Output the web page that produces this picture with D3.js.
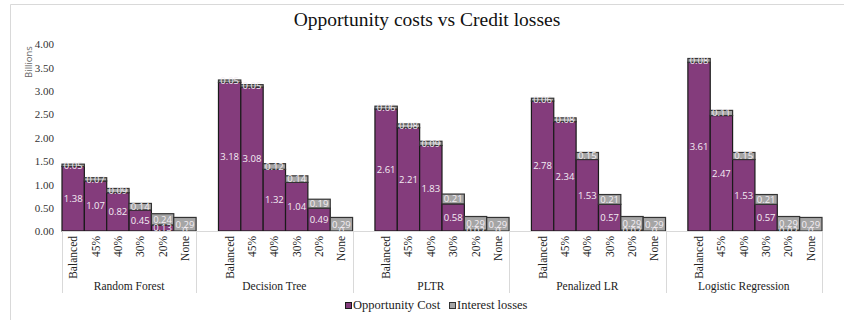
<!DOCTYPE html>
<html>
<head>
<meta charset="utf-8">
<script src="https://cdn.jsdelivr.net/npm/d3@7/dist/d3.min.js"></script>
<style>
  html, body { margin: 0; padding: 0; background: #fff; }
  svg { display: block; }
  .serif { font-family: "Liberation Serif", "Times New Roman", serif; }
  .sans { font-family: "Open Sans", "Liberation Sans", sans-serif; }
</style>
</head>
<body>
<svg id="chart" width="844" height="320"></svg>
<script>
// Models (outer category) and class-balancing settings (inner category)
const models = ["Random Forest", "Decision Tree", "PLTR", "Penalized LR", "Logistic Regression"];
const settings = ["Balanced", "45%", "40%", "30%", "20%", "None"];

// Opportunity cost per model, in billions, in the order of `settings`
const opportunityCost = [
  [1.38, 1.07, 0.82, 0.45, 0.13, 0],
  [3.18, 3.08, 1.32, 1.04, 0.49, 0],
  [2.61, 2.21, 1.83, 0.58, 0.02, 0],
  [2.78, 2.34, 1.53, 0.57, 0.02, 0],
  [3.61, 2.47, 1.53, 0.57, 0.02, 0]
];
// Interest losses per model, in billions
const interestLosses = [
  [0.05, 0.07, 0.09, 0.14, 0.24, 0.29],
  [0.05, 0.05, 0.12, 0.14, 0.19, 0.29],
  [0.06, 0.08, 0.09, 0.21, 0.29, 0.29],
  [0.06, 0.08, 0.15, 0.21, 0.29, 0.29],
  [0.08, 0.11, 0.15, 0.21, 0.29, 0.29]
];
const yTicks = [0, 0.5, 1, 1.5, 2, 2.5, 3, 3.5, 4];
const seriesNames = ["Opportunity Cost", "Interest losses"];
const colors = { oc: "#843C7C", il: "#A5A5A5" };

const svg = d3.select("#chart");

// Flat list of slots: every model after the first starts with an empty slot
const slots = [];
const groups = [];
models.forEach((m, gi) => {
  if (gi > 0) slots.push({ key: `gap${gi}`, gap: true });
  settings.forEach((s, si) => {
    slots.push({
      key: `${gi}-${si}`, model: m, setting: s,
      oc: opportunityCost[gi][si], il: interestLosses[gi][si]
    });
  });
  groups.push({ name: m, last: slots[slots.length - 1].key });
});

const plot = { left: 62, right: 822, top: 44, bottom: 231 };

const x = d3.scaleBand().domain(slots.map(d => d.key)).range([plot.left, plot.right]).padding(0);
const y = d3.scaleLinear().domain([0, 4]).range([plot.bottom, plot.top]);

// Chart frame edges
svg.append("line").attr("x1", 10.5).attr("x2", 844).attr("y1", 4.5).attr("y2", 4.5)
  .attr("stroke", "#d9d9d9");
svg.append("line").attr("x1", 10.5).attr("x2", 10.5).attr("y1", 4.5).attr("y2", 320)
  .attr("stroke", "#d9d9d9");

// Title
svg.append("text").attr("class", "serif").attr("x", 427).attr("y", 26).attr("text-anchor", "middle")
  .attr("font-size", 19.5).attr("fill", "#111")
  .text("Opportunity costs vs Credit losses");

// Y axis
const yAxis = d3.axisLeft(y).tickValues(yTicks).tickFormat(d3.format(".2f")).tickSize(0).tickPadding(0);
const yg = svg.append("g").attr("transform", `translate(${plot.left - 8},0)`).call(yAxis)
  .attr("font-family", null);
yg.select(".domain").remove();
yg.selectAll("text").attr("class", "serif").attr("font-size", 11).attr("fill", "#333")
  .attr("dy", "0.35em");

svg.append("text").attr("class", "sans").attr("transform", "translate(32,62) rotate(-90)")
  .attr("text-anchor", "middle").attr("font-size", 9.5).attr("fill", "#666").text("Billions");

// Bars
const bars = slots.filter(d => !d.gap);
const barG = svg.append("g");
barG.selectAll("rect.oc").data(bars).join("rect").attr("class", "oc")
  .attr("x", d => x(d.key)).attr("width", x.bandwidth())
  .attr("y", d => y(d.oc)).attr("height", d => y(0) - y(d.oc))
  .attr("fill", colors.oc).attr("stroke", "#1a1a1a").attr("stroke-width", 1.2);
barG.selectAll("rect.il").data(bars).join("rect").attr("class", "il")
  .attr("x", d => x(d.key)).attr("width", x.bandwidth())
  .attr("y", d => y(d.oc + d.il)).attr("height", d => y(d.oc) - y(d.oc + d.il))
  .attr("fill", colors.il).attr("stroke", "#333").attr("stroke-width", 1.2);

// Value labels, clipped to the plot area
svg.append("clipPath").attr("id", "plotClip").append("rect")
  .attr("x", plot.left).attr("y", 0).attr("width", plot.right - plot.left).attr("height", plot.bottom + 1);
const lab = svg.append("g").attr("clip-path", "url(#plotClip)").attr("class", "sans")
  .attr("font-size", 9.5).attr("fill", "#f4eef4").attr("text-anchor", "middle");
lab.selectAll("text.oc").data(bars).join("text")
  .attr("x", d => x(d.key) + x.bandwidth() / 2)
  .attr("y", d => (y(0) + y(d.oc)) / 2).attr("dy", "0.35em")
  .text(d => d.oc === 0 ? "0" : d3.format(".2f")(d.oc));
lab.selectAll("text.il").data(bars).join("text")
  .attr("x", d => x(d.key) + x.bandwidth() / 2)
  .attr("y", d => (y(d.oc) + y(d.oc + d.il)) / 2).attr("dy", "0.35em")
  .text(d => d3.format(".2f")(d.il));

// Category axis line and group dividers
svg.append("line").attr("x1", plot.left).attr("x2", plot.right)
  .attr("y1", plot.bottom + 0.5).attr("y2", plot.bottom + 0.5).attr("stroke", "#d9d9d9");
const dividerX = [plot.left].concat(groups.map(g => x(g.last) + x.bandwidth()));
svg.selectAll("line.div").data(dividerX).join("line").attr("class", "div")
  .attr("x1", d => Math.round(d) + 0.5).attr("x2", d => Math.round(d) + 0.5)
  .attr("y1", plot.bottom).attr("y2", 293).attr("stroke", "#d9d9d9");

// Inner category labels
svg.append("g").selectAll("text").data(bars).join("text").attr("class", "serif")
  .attr("transform", d => `translate(${x(d.key) + x.bandwidth() / 2 + 4},${plot.bottom + 5}) rotate(-90)`)
  .attr("text-anchor", "end").attr("font-size", 11.5).attr("fill", "#222")
  .text(d => d.setting);

// Outer category labels
svg.append("g").selectAll("text").data(groups).join("text").attr("class", "serif")
  .attr("x", (g, i) => (dividerX[i] + dividerX[i + 1]) / 2).attr("y", 290)
  .attr("text-anchor", "middle").attr("font-size", 11.5).attr("fill", "#222")
  .text(g => g.name);

// Legend
const legend = svg.append("g");
const legendItems = [
  { name: seriesNames[0], color: colors.oc, stroke: "#1a1a1a", x: 345 },
  { name: seriesNames[1], color: colors.il, stroke: "#333", x: 449 }
];
legendItems.forEach(it => {
  legend.append("rect").attr("x", it.x + 0.5).attr("y", 302.5).attr("width", 6).attr("height", 6)
    .attr("fill", it.color).attr("stroke", it.stroke);
  legend.append("text").attr("class", "serif").attr("x", it.x + 8).attr("y", 309)
    .attr("font-size", 12.5).attr("fill", "#222").text(it.name);
});
</script>
</body>
</html>
